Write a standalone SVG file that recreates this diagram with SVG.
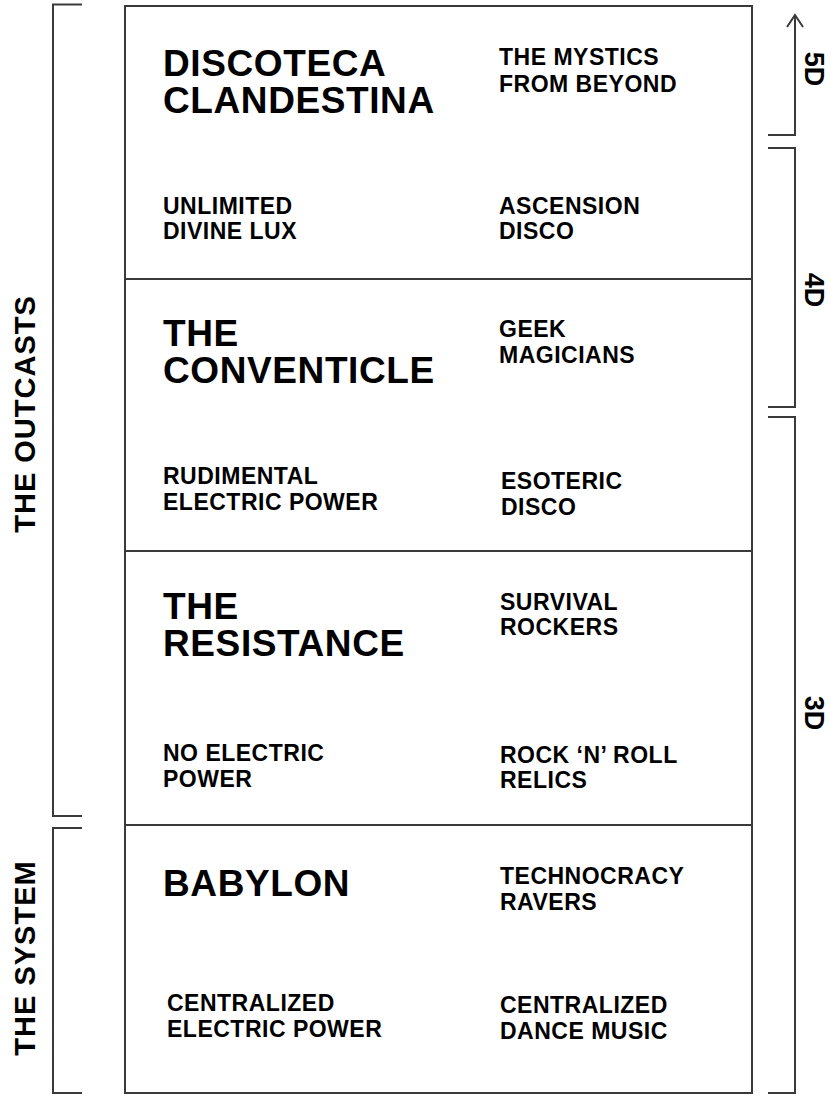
<svg xmlns="http://www.w3.org/2000/svg" width="831" height="1096" viewBox="0 0 831 1096">
<style>
.ln{fill:none;stroke:#3a3a3a;stroke-width:2}
.big{font-family:"Liberation Sans",Arial,sans-serif;font-weight:bold;font-size:37px;letter-spacing:0.6px;fill:#000}
.sm{font-family:"Liberation Sans",Arial,sans-serif;font-weight:bold;font-size:23px;letter-spacing:0.5px;fill:#000}
.side{font-family:"Liberation Sans",Arial,sans-serif;font-weight:bold;font-size:29px;letter-spacing:1px;fill:#000}
.dim{font-family:"Liberation Sans",Arial,sans-serif;font-weight:bold;font-size:27px;fill:#000}
</style>
<rect width="831" height="1096" fill="#fff"/>
<g id="connectors">
<path class="ln" d="M82,4.5 H53 V816 H82"/>
<path class="ln" d="M82,828 H53 V1093 H82"/>
<path class="ln" d="M795,15 V135 H768"/>
<path class="ln" d="M787,27 L795,15 L803,27"/>
<path class="ln" d="M768,148 H795 V407 H768"/>
<path class="ln" d="M768,417 H795 V1093 H768"/>
</g>
<g id="frame">
<rect class="ln" x="125" y="6" width="627" height="1087"/>
<line class="ln" x1="125" y1="279" x2="752" y2="279"/>
<line class="ln" x1="125" y1="551" x2="752" y2="551"/>
<line class="ln" x1="125" y1="825" x2="752" y2="825"/>
</g>
<g id="discoteca">
<text class="big" x="163" y="76">DISCOTECA</text>
<text class="big" x="163" y="113">CLANDESTINA</text>
<text class="sm" x="499" y="65">THE MYSTICS</text>
<text class="sm" x="499" y="92">FROM BEYOND</text>
<text class="sm" x="163" y="214">UNLIMITED</text>
<text class="sm" x="163" y="239">DIVINE LUX</text>
<text class="sm" x="499" y="214">ASCENSION</text>
<text class="sm" x="499" y="239">DISCO</text>
</g>
<g id="conventicle">
<text class="big" x="163" y="346">THE</text>
<text class="big" x="163" y="383">CONVENTICLE</text>
<text class="sm" x="499" y="337">GEEK</text>
<text class="sm" x="499" y="363">MAGICIANS</text>
<text class="sm" x="163" y="484">RUDIMENTAL</text>
<text class="sm" x="163" y="510">ELECTRIC POWER</text>
<text class="sm" x="501" y="489">ESOTERIC</text>
<text class="sm" x="501" y="515">DISCO</text>
</g>
<g id="resistance">
<text class="big" x="163" y="619">THE</text>
<text class="big" x="163" y="656">RESISTANCE</text>
<text class="sm" x="500" y="610">SURVIVAL</text>
<text class="sm" x="500" y="635">ROCKERS</text>
<text class="sm" x="163" y="761">NO ELECTRIC</text>
<text class="sm" x="163" y="787">POWER</text>
<text class="sm" x="500" y="763">ROCK ‘N’ ROLL</text>
<text class="sm" x="500" y="788">RELICS</text>
</g>
<g id="babylon">
<text class="big" x="163" y="896">BABYLON</text>
<text class="sm" x="500" y="884">TECHNOCRACY</text>
<text class="sm" x="500" y="910">RAVERS</text>
<text class="sm" x="167" y="1011">CENTRALIZED</text>
<text class="sm" x="167" y="1037">ELECTRIC POWER</text>
<text class="sm" x="500" y="1013">CENTRALIZED</text>
<text class="sm" x="500" y="1039">DANCE MUSIC</text>
</g>
<g id="outcasts">
<text class="side" text-anchor="middle" transform="translate(35,414) rotate(-90)">THE OUTCASTS</text>
</g>
<g id="system">
<text class="side" text-anchor="middle" transform="translate(35,958) rotate(-90)">THE SYSTEM</text>
</g>
<g id="d5">
<text class="dim" text-anchor="middle" transform="translate(805,69) rotate(90)">5D</text>
</g>
<g id="d4">
<text class="dim" text-anchor="middle" transform="translate(805,290) rotate(90)">4D</text>
</g>
<g id="d3">
<text class="dim" text-anchor="middle" transform="translate(805,713) rotate(90)">3D</text>
</g>
</svg>
